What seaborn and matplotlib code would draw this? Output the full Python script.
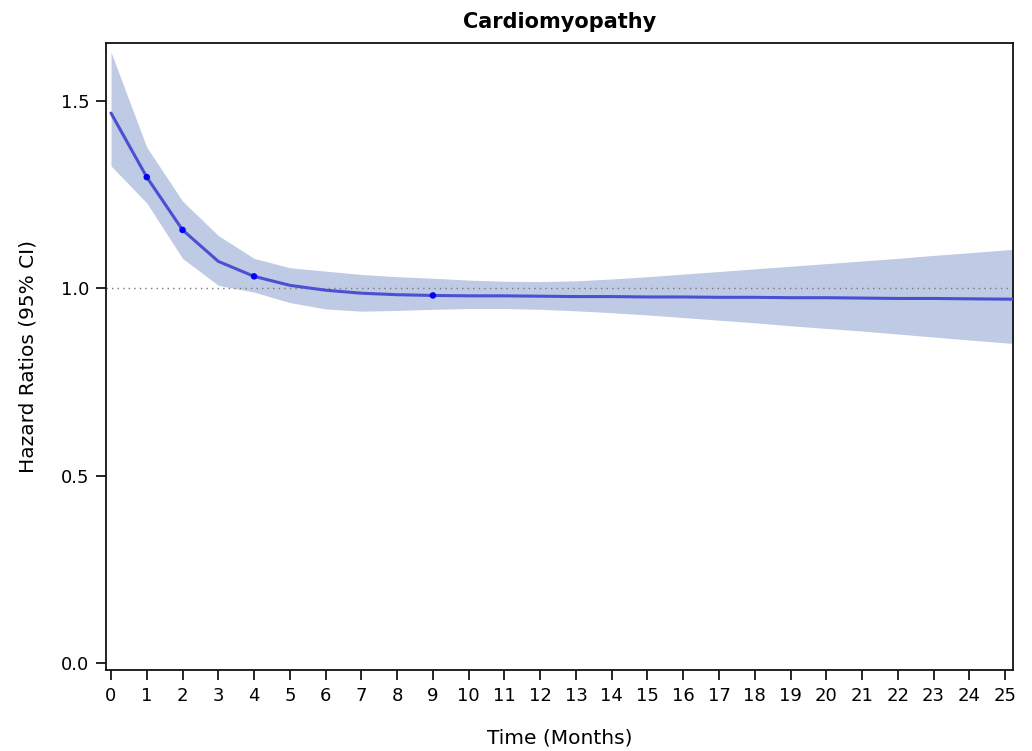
import numpy as np
import pandas as pd
import matplotlib
matplotlib.use("Agg")
import matplotlib.pyplot as plt
import seaborn as sns

# hazard ratio curve
months = [0, 1, 2, 3, 4, 5, 6, 7, 8, 9, 10, 11, 12, 13, 14, 15, 16, 17, 18, 19, 20, 21, 22, 23, 24, 25.2]
hr = [1.468, 1.297, 1.156, 1.072, 1.032, 1.008, 0.995, 0.987, 0.983, 0.981, 0.980, 0.980, 0.979,
      0.978, 0.978, 0.977, 0.977, 0.976, 0.976, 0.975, 0.975, 0.974, 0.973, 0.973, 0.972, 0.971]
upper = [1.631, 1.377, 1.233, 1.141, 1.080, 1.055, 1.046, 1.037, 1.031, 1.027, 1.022, 1.019, 1.018,
         1.020, 1.025, 1.031, 1.038, 1.045, 1.052, 1.059, 1.066, 1.073, 1.080, 1.088, 1.095, 1.104]
lower = [1.327, 1.228, 1.080, 1.008, 0.990, 0.962, 0.945, 0.939, 0.941, 0.944, 0.946, 0.946, 0.944,
         0.940, 0.935, 0.929, 0.922, 0.915, 0.908, 0.900, 0.893, 0.886, 0.878, 0.870, 0.862, 0.853]
marker_months = [1, 2, 4, 9]

df = pd.DataFrame({"Time": months, "HR": hr, "lo": lower, "hi": upper})
pts = df[df["Time"].isin(marker_months)]

sns.set_style("ticks")
plt.rcParams['font.family'] = ['DejaVu Sans']
plt.rcParams['text.color'] = 'black'
plt.rcParams['axes.labelcolor'] = 'black'
plt.rcParams['xtick.color'] = 'black'
plt.rcParams['ytick.color'] = 'black'

fig = plt.figure(figsize=(10.32, 7.51), dpi=100)
ax = fig.add_axes([0.1027, 0.1079, 0.8789, 0.8348])

ax.fill_between(df["Time"], df["lo"], df["hi"], color="#bfcae5", linewidth=0, zorder=1)
ax.axhline(1.0, color="#777777", linestyle=(0, (1, 3)), linewidth=1, zorder=2)
sns.lineplot(data=df, x="Time", y="HR", ax=ax, color="#4b50d2", linewidth=2.2, zorder=3)
sns.scatterplot(data=pts, x="Time", y="HR", ax=ax, color="#0000ff", s=22, edgecolor="none", zorder=4)

ax.set_xlim(-0.14, 25.22)
ax.set_ylim(-0.019, 1.655)
ax.set_xticks(range(0, 26))
ax.set_yticks([0.0, 0.5, 1.0, 1.5])
ax.set_yticklabels(["0.0", "0.5", "1.0", "1.5"])
ax.tick_params(labelsize=13, length=7, width=1.2, pad=5)
for s in ax.spines.values():
    s.set_linewidth(1.3)
    s.set_color("#111111")

ax.set_xlabel("Time (Months)", fontsize=14.5, labelpad=17)
ax.set_ylabel("Hazard Ratios (95% CI)", fontsize=14.5, labelpad=17)
ax.set_title("Cardiomyopathy", fontsize=15, fontweight="bold", pad=11)

fig.savefig("out.png", dpi=100)
